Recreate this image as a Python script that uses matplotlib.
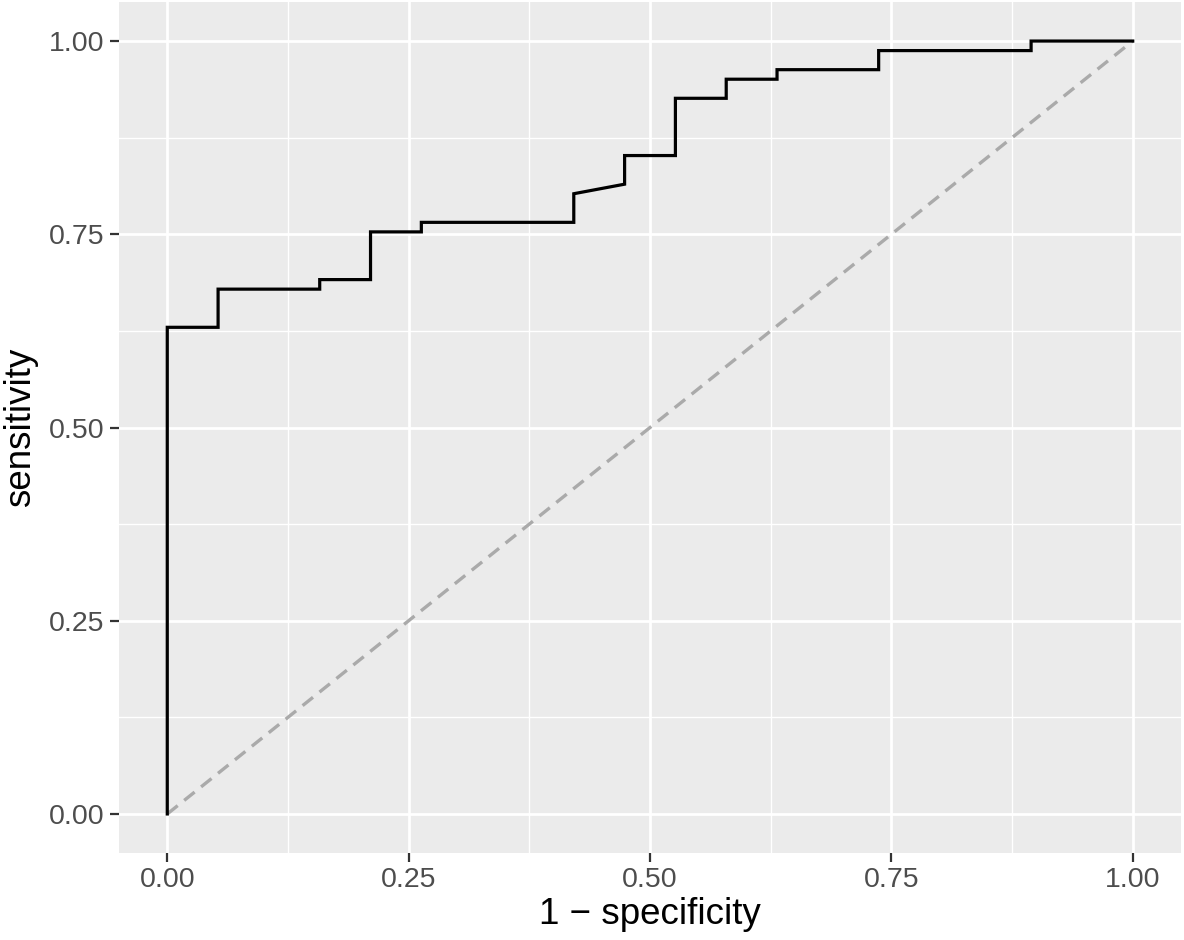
import matplotlib
matplotlib.use("Agg")
import matplotlib.pyplot as plt
import numpy as np
from matplotlib.ticker import MultipleLocator

# ROC curve points (1 - specificity, sensitivity)
n_neg = 19
n_pos = 81
fp_counts = [0, 0, 1, 1, 3, 3, 4, 4, 5, 5, 8, 8, 9, 9, 10, 10, 11, 11, 12, 12, 14, 14, 17, 17, 19]
tp_counts = [0, 51, 51, 55, 55, 56, 56, 61, 61, 62, 62, 65, 66, 69, 69, 75, 75, 77, 77, 78, 78, 80, 80, 81, 81]

fpr = np.array(fp_counts) / n_neg
tpr = np.array(tp_counts) / n_pos

ticks = [0.00, 0.25, 0.50, 0.75, 1.00]
tick_labels = ["0.00", "0.25", "0.50", "0.75", "1.00"]

plt.rcParams["font.family"] = ["Liberation Sans", "DejaVu Sans"]

fig = plt.figure(figsize=(11.84, 9.4), dpi=100)
ax = fig.add_axes([119 / 1184, (940 - 852.6) / 940, (1181 - 119) / 1184, (852.6 - 2.4) / 940])

ax.set_facecolor("#EBEBEB")
for s in ax.spines.values():
    s.set_visible(False)

ax.set_xlim(-0.05, 1.05)
ax.set_ylim(-0.05, 1.05)
ax.xaxis.set_minor_locator(MultipleLocator(0.125))
ax.yaxis.set_minor_locator(MultipleLocator(0.125))
ax.set_xticks(ticks)
ax.set_xticklabels(tick_labels)
ax.set_yticks(ticks)
ax.set_yticklabels(tick_labels)

ax.grid(which="major", color="white", linewidth=2.0)
ax.grid(which="minor", color="white", linewidth=1.0)
ax.set_axisbelow(True)

ax.tick_params(which="major", length=6.5, width=1.6, color="#333333",
               labelsize=20.5, labelcolor="#4D4D4D", pad=4)
ax.tick_params(which="minor", length=0)

# diagonal reference line
ax.plot([0, 1], [0, 1], color="#AAAAAA", linestyle=(0, (4, 2.5)), linewidth=2.4)
# ROC curve
ax.plot(fpr, tpr, color="black", linewidth=2.3, solid_joinstyle="miter")

ax.set_xlabel("1 \u2212 specificity", fontsize=26.5, labelpad=3)
ax.set_ylabel("sensitivity", fontsize=26.5, labelpad=8)

fig.savefig("out.png", dpi=100)
